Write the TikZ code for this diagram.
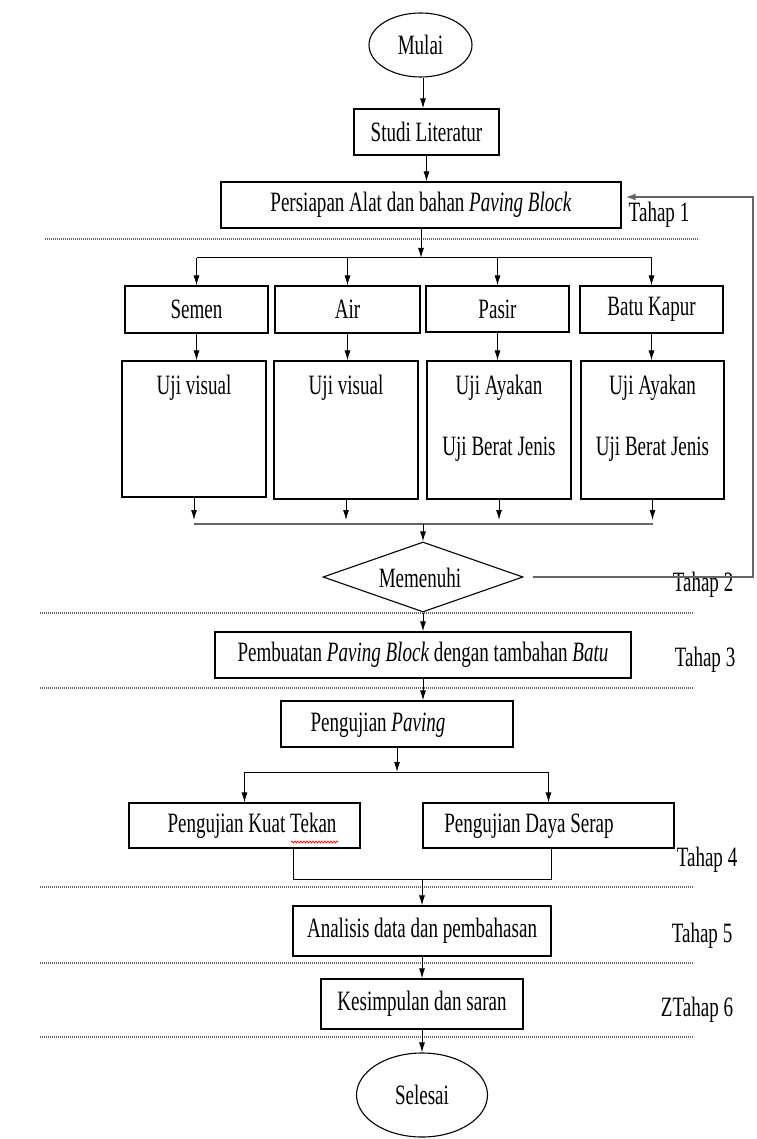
\documentclass[tikz,border=0pt]{standalone}
\usepackage{fontspec}
\setmainfont{Liberation Serif}[FakeStretch=0.68]
\usetikzlibrary{shapes.geometric,arrows.meta,decorations.pathmorphing}
\begin{document}
\begin{tikzpicture}[x=1pt,y=-1pt,font=\fontsize{28}{30}\selectfont,
  box/.style={draw,line width=1.1pt,inner sep=0pt,rectangle},
  arr/.style={-{Latex[length=10pt,width=6pt]},line width=1pt},
  ln/.style={line width=1pt},
  grayln/.style={draw=black!60,line width=1.6pt},
  sepline/.style={draw=black!60,line width=1.5pt,dash pattern=on 1.3pt off 0.7pt},
  lbl/.style={inner sep=0pt}]
\useasboundingbox (0,0) rectangle (756,1139);
% nodes
\node[draw,ellipse,line width=1.1pt,minimum width=103pt,minimum height=64pt,inner sep=0pt] (mulai) at (420.5,45) {Mulai};
\node[box,minimum width=145pt,minimum height=46pt] (studi) at (426.5,132) {Studi Literatur};
\node[box,minimum width=400pt,minimum height=46pt] (persiapan) at (421,205) {Persiapan Alat dan bahan \textit{Paving Block}};
\node[box,minimum width=143pt,minimum height=47pt] (semen) at (196.5,309.5) {Semen};
\node[box,minimum width=145pt,minimum height=47pt] (air) at (347.5,309.5) {Air};
\node[box,minimum width=143pt,minimum height=46pt] (pasir) at (497.5,309) {Pasir};
\node[box,minimum width=143pt,minimum height=47pt] (batu) at (651.5,309.5) {Batu Kapur};
\node[box,minimum width=144pt,minimum height=136pt] (u1) at (194,429) {};
\node[box,minimum width=144pt,minimum height=138pt] (u2) at (346,430) {};
\node[box,minimum width=144pt,minimum height=138pt] (u3) at (499,430) {};
\node[box,minimum width=143pt,minimum height=138pt] (u4) at (652.5,430) {};
\node[lbl] (t1) at (194,388) {Uji visual};
\node[lbl] (t2) at (346,388) {Uji visual};
\node[lbl] (t3) at (499,388) {Uji Ayakan};
\node[lbl] (t4) at (499,449) {Uji Berat Jenis};
\node[lbl] (t5) at (652.5,388) {Uji Ayakan};
\node[lbl] (t6) at (652.5,449) {Uji Berat Jenis};
\node[draw,diamond,line width=1.1pt,aspect=2.86,minimum width=200pt,minimum height=70pt,inner sep=0pt] (mem) at (423,577) {};
\node[lbl] (memt) at (420,578) {Memenuhi};
\node[box,minimum width=416pt,minimum height=46pt] (pemb) at (423,655) {Pembuatan \textit{Paving Block} dengan tambahan \textit{Batu}};
\node[box,minimum width=232pt,minimum height=46pt] (peng) at (397,724) {};
\node[lbl] (pengt) at (378,725) {Pengujian \textit{Paving}};
\node[box,minimum width=231pt,minimum height=45pt] (kuat) at (244.5,825.5) {};
\node[lbl] (kuatt) at (252,826) {Pengujian Kuat Tekan};
\node[box,minimum width=251pt,minimum height=45pt] (serap) at (548.5,825.5) {};
\node[lbl] (serapt) at (529,826) {Pengujian Daya Serap};
\node[box,minimum width=258pt,minimum height=50pt] (anal) at (422,931) {Analisis data dan pembahasan};
\node[box,minimum width=202pt,minimum height=50pt] (kesim) at (422,1004) {Kesimpulan dan saran};
\node[draw,ellipse,line width=1.1pt,minimum width=131pt,minimum height=84pt,inner sep=0pt] (selesai) at (422,1095) {Selesai};
% stage labels
\node[lbl] (tahap1) at (659,215) {Tahap 1};
\node[lbl] (tahap2) at (703,585) {Tahap 2};
\node[lbl] (tahap3) at (705,660) {Tahap 3};
\node[lbl] (tahap4) at (707,860) {Tahap 4};
\node[lbl] (tahap5) at (702,936) {Tahap 5};
\node[lbl] (tahap6) at (697,1010) {ZTahap 6};
% separator lines
\foreach \yy/\xa/\xb in {239/45/699,613/40/694,688/40/694,887/40/694,963/40/694,1037/40/694}
  \draw[sepline] (\xa,\yy) -- (\xb,\yy);
% coordinates
\coordinate (split1) at (421,258);
\coordinate (merge1) at (423,524);
\coordinate (split2) at (397,772);
\coordinate (merge2) at (422,879);
\coordinate (fbR) at (753,577);
\coordinate (fbT) at (753,197);
% connectors
\draw[arr] ([xshift=2.5pt]mulai.south) -- ([xshift=2.5pt]mulai.south |- studi.north);
\draw[arr] (studi.south) -- (studi.south |- persiapan.north);
\draw[arr] (persiapan.south) -- (split1);
\draw[ln] (semen.north |- split1) -- (batu.north |- split1);
\foreach \n in {semen,air,pasir,batu}
  \draw[arr] (\n.north |- split1) -- (\n.north);
\draw[arr] (semen.south) -- (u1.north -| semen.south);
\draw[arr] (air.south) -- (u2.north -| air.south);
\draw[arr] (pasir.south) -- (u3.north -| pasir.south);
\draw[arr] (batu.south) -- (u4.north -| batu.south);
\foreach \n in {u1,u2,u3,u4}
  \draw[arr] (\n.south) -- ([yshift=4pt]\n.south |- merge1);
\draw[grayln] (u1.south |- merge1) -- (u4.south |- merge1);
\draw[arr] (merge1) -- (mem.north);
\draw[grayln,-{Latex[length=10pt,width=7pt]}] ([xshift=9pt]mem.east) -- (fbR) -- (fbT) -- ([xshift=4pt,yshift=8pt]persiapan.east);
\draw[arr] (mem.south) -- (pemb.north);
\draw[arr] (pemb.south) -- (pemb.south |- peng.north);
\draw[arr] (peng.south) -- (split2);
\draw[ln] (kuat.north |- split2) -- (serap.north |- split2);
\draw[arr] (kuat.north |- split2) -- (kuat.north);
\draw[arr] (serap.north |- split2) -- (serap.north);
\coordinate (kb) at (293,848);
\coordinate (sb) at (551,848);
\draw[ln] (kb) -- (kb |- merge2) -- (sb |- merge2) -- (sb);
\draw[arr] (merge2) -- (anal.north);
\draw[arr] (anal) -- (kesim);
\draw[arr] (kesim) -- (selesai);
% spell-check squiggle
\draw[red,line width=0.7pt,decorate,decoration={snake,amplitude=1pt,segment length=3pt}] (291,842) -- (338,842);
\end{tikzpicture}
\end{document}
